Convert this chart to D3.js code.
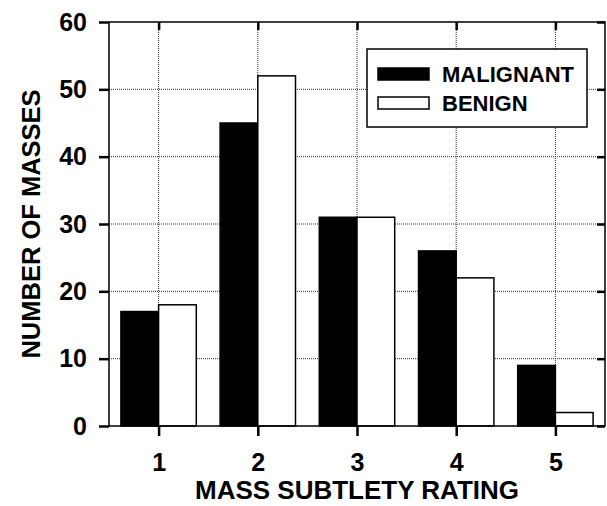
<!DOCTYPE html>
<html>
<head>
<meta charset="utf-8">
<script src="https://cdn.jsdelivr.net/npm/d3@7"></script>
<style>
  body { margin: 0; background: #fff; }
  svg text { font-family: "Liberation Sans", Arial, Helvetica, sans-serif; font-weight: bold; fill: #000; }
</style>
</head>
<body>
<div id="chart"></div>
<script>
// data
var ratings = [1, 2, 3, 4, 5];
var malignant = [17, 45, 31, 26, 9];
var benign = [18, 52, 31, 22, 2];
var yTicks = [0, 10, 20, 30, 40, 50, 60];
var seriesNames = ["MALIGNANT", "BENIGN"];

var W = 607, H = 506;
var margin = {top: 22, right: 2, bottom: 80, left: 109},
  width = W - margin.left - margin.right,
  height = H - margin.top - margin.bottom;

var svg = d3.select("#chart")
  .append("svg")
  .attr("width", W)
  .attr("height", H);

var g = svg.append("g")
  .attr("transform", "translate(" + margin.left + "," + margin.top + ")");

var x = d3.scaleLinear().domain([0.5, 5.5]).range([0, width]);
var y = d3.scaleLinear().domain([0, 60]).range([height, 0]);
var bw = 0.38; // bar width in category units

/****** GRID ******/
g.append("g").selectAll("line.hgrid")
  .data(yTicks.slice(1, -1))
  .enter().append("line")
  .attr("x1", 0).attr("x2", width)
  .attr("y1", d => y(d)).attr("y2", d => y(d))
  .attr("stroke", "#333").attr("stroke-width", 1)
  .attr("stroke-dasharray", "1,1");

g.append("g").selectAll("line.vgrid")
  .data(ratings)
  .enter().append("line")
  .attr("x1", d => x(d)).attr("x2", d => x(d))
  .attr("y1", 0).attr("y2", height)
  .attr("stroke", "#333").attr("stroke-width", 1)
  .attr("stroke-dasharray", "1,1");

/****** BARS ******/
g.append("g").selectAll("rect")
  .data(ratings)
  .enter().append("rect")
  .attr("x", (d) => x(d - bw))
  .attr("y", (d, i) => y(malignant[i]))
  .attr("width", x(bw) - x(0))
  .attr("height", (d, i) => height - y(malignant[i]))
  .attr("fill", "#000")
  .attr("stroke", "#000")
  .attr("stroke-width", 1.5);

g.append("g").selectAll("rect")
  .data(ratings)
  .enter().append("rect")
  .attr("x", (d) => x(d))
  .attr("y", (d, i) => y(benign[i]))
  .attr("width", x(bw) - x(0))
  .attr("height", (d, i) => height - y(benign[i]))
  .attr("fill", "#fff")
  .attr("stroke", "#000")
  .attr("stroke-width", 1.5);

/****** FRAME & AXES ******/
g.append("rect")
  .attr("x", 0).attr("y", 0)
  .attr("width", width).attr("height", height)
  .attr("fill", "none")
  .attr("stroke", "#000")
  .attr("stroke-width", 1.5);

var yAxis = d3.axisLeft(y).tickValues(yTicks).tickSize(10).tickPadding(12);
var yAx = g.append("g").call(yAxis);
yAx.select(".domain").remove();
yAx.selectAll(".tick line").attr("stroke-width", 2.5);
yAx.selectAll("text").style("font-size", "25px");

var yRight = g.append("g")
  .attr("transform", "translate(" + width + ",0)")
  .call(d3.axisLeft(y).tickValues(yTicks).tickSize(8).tickFormat(""));
yRight.select(".domain").remove();
yRight.selectAll(".tick line").attr("stroke-width", 2.5);

var xAxis = d3.axisBottom(x).tickValues(ratings).tickFormat(d3.format("d"))
  .tickSize(10).tickPadding(17);
var xAx = g.append("g")
  .attr("transform", "translate(0," + height + ")")
  .call(xAxis);
xAx.select(".domain").remove();
xAx.selectAll(".tick line").attr("stroke-width", 2.5);
xAx.selectAll("text").style("font-size", "25px");

var xTop = g.append("g")
  .call(d3.axisBottom(x).tickValues(ratings).tickSize(8).tickFormat(""));
xTop.select(".domain").remove();
xTop.selectAll(".tick line").attr("stroke-width", 2.5);

/****** AXIS TITLES ******/
svg.append("text")
  .attr("x", margin.left + x(3))
  .attr("y", 499)
  .attr("text-anchor", "middle")
  .style("font-size", "26px")
  .text("MASS SUBTLETY RATING");

svg.append("text")
  .attr("transform", "translate(40," + (margin.top + height / 2) + ") rotate(-90)")
  .attr("text-anchor", "middle")
  .style("font-size", "25.5px")
  .text("NUMBER OF MASSES");

/****** LEGEND ******/
var legend = svg.append("g").attr("transform", "translate(367,49)");
legend.append("rect")
  .attr("width", 220).attr("height", 78)
  .attr("fill", "#fff").attr("stroke", "#000").attr("stroke-width", 1.5);

var fills = ["#000", "#fff"];
seriesNames.forEach(function(name, i) {
  legend.append("rect")
    .attr("x", 11).attr("y", 19 + i * 29)
    .attr("width", 51).attr("height", 12)
    .attr("fill", fills[i]).attr("stroke", "#000").attr("stroke-width", 1.5);
  legend.append("text")
    .attr("x", 75).attr("y", 33 + i * 29)
    .style("font-size", "22px")
    .text(name);
});
</script>
</body>
</html>
